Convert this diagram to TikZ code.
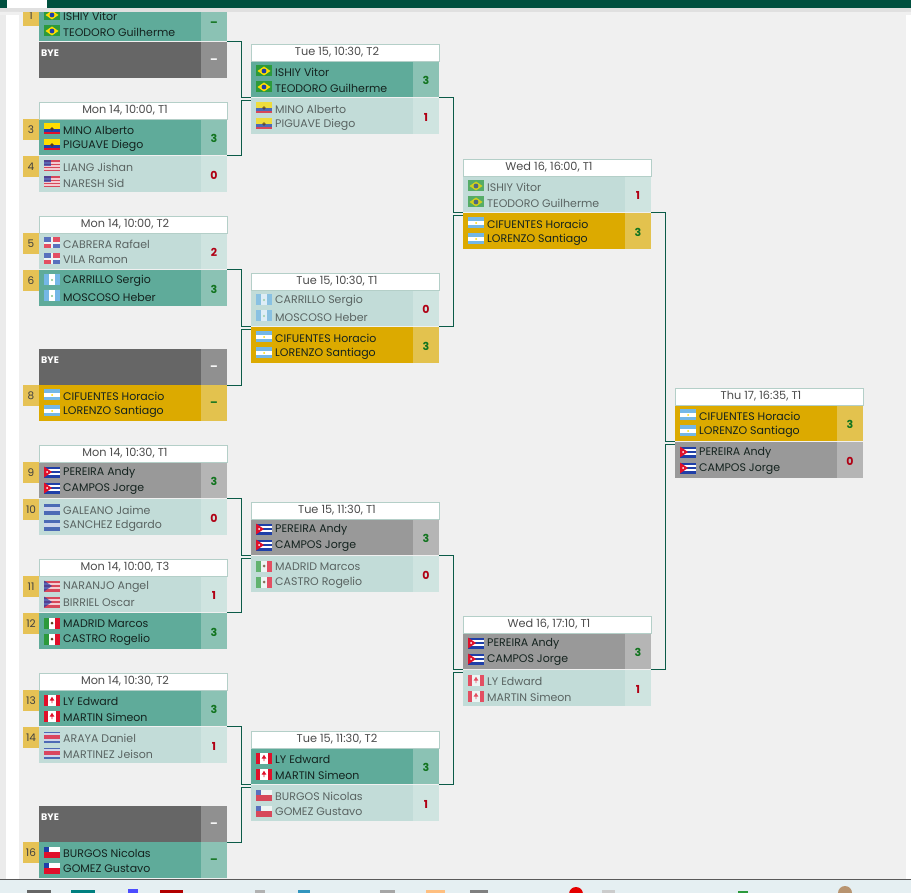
\documentclass[tikz,border=0pt]{standalone}
\usepackage{fontspec}
\setmainfont{Poppins}
\usepackage{xcolor}
\definecolor{panelgrey}{HTML}{F0F0F0}
\definecolor{barteal}{HTML}{00503F}
\definecolor{linkgreen}{HTML}{0B5B48}
\definecolor{headborder}{HTML}{B4CFC8}
\definecolor{seedgold}{HTML}{E6C255}
\definecolor{tealrow}{HTML}{5FAB9A}
\definecolor{tealscore}{HTML}{8BC2B4}
\definecolor{palerow}{HTML}{C2DCD8}
\definecolor{palescore}{HTML}{CFE4E0}
\definecolor{goldrow}{HTML}{DCAA00}
\definecolor{goldscore}{HTML}{E3C24E}
\definecolor{greyrow}{HTML}{999999}
\definecolor{greyscore}{HTML}{B5B5B5}
\definecolor{byerow}{HTML}{666666}
\definecolor{byescore}{HTML}{909090}
\definecolor{wingreen}{HTML}{12741F}
\definecolor{losered}{HTML}{B00014}
\definecolor{darkname}{HTML}{14231F}
\definecolor{palename}{HTML}{5A6462}
\definecolor{flagblue}{HTML}{1F3FA8}
\definecolor{flagred}{HTML}{E0102A}
\definecolor{flagsky}{HTML}{74B7E6}
\definecolor{flaggreen}{HTML}{2C9A3C}
\definecolor{flagyellow}{HTML}{FFDD00}
\definecolor{stripblue}{HTML}{E5EFF2}
\tikzset{
    rowbox/.style={inner sep=0pt, outer sep=0pt, minimum width=188pt, minimum height=36pt},
    scorebox/.style={inner sep=0pt, outer sep=0pt, minimum width=26pt, minimum height=36pt},
    scoretext/.style={inner sep=0pt, font=\fontsize{11}{13}\selectfont\bfseries},
    namelabel/.style={inner sep=0pt, anchor=west, font=\fontsize{11}{13}\selectfont},
    seedbox/.style={inner sep=0pt, outer sep=0pt, minimum width=16pt, minimum height=21pt, fill=seedgold, text=black!75, font=\fontsize{10.5}{12}\selectfont},
    headbox/.style={inner sep=0pt, outer sep=0pt, minimum width=188pt, minimum height=17pt, fill=white, draw=headborder, line width=.7pt},
    headtext/.style={inner sep=0pt, text=black!70, font=\fontsize{11.3}{13}\selectfont},
    bracket/.style={draw=linkgreen, line width=.8pt},
    rowteal/.style={fill=tealrow}, rowtealname/.style={text=darkname}, rowtealscore/.style={fill=tealscore}, rowtealmark/.style={text=wingreen}, rowtealflag/.style={},
    rowpale/.style={fill=palerow}, rowpalename/.style={text=palename}, rowpalescore/.style={fill=palescore}, rowpalemark/.style={text=losered}, rowpaleflag/.style={opacity=.72},
    rowgold/.style={fill=goldrow}, rowgoldname/.style={text=darkname}, rowgoldscore/.style={fill=goldscore}, rowgoldmark/.style={text=wingreen}, rowgoldflag/.style={},
    rowgrey/.style={fill=greyrow}, rowgreyname/.style={text=darkname}, rowgreyscore/.style={fill=greyscore}, rowgreymark/.style={text=wingreen}, rowgreyflag/.style={},
    rowgreyout/.style={fill=greyrow}, rowgreyoutname/.style={text=darkname}, rowgreyoutscore/.style={fill=greyscore}, rowgreyoutmark/.style={text=losered}, rowgreyoutflag/.style={},
    pics/flagbr/.style={code={
        \fill[flaggreen] (-8,-5.5) rectangle (8,5.5);
        \fill[flagyellow] (-6.5,0) -- (0,-4.5) -- (6.5,0) -- (0,4.5) -- cycle;
        \fill[flagblue] (0,0) circle (2.4);
    }},
    pics/flagec/.style={code={
        \fill[flagyellow] (-8,-5.5) rectangle (8,0);
        \fill[flagblue] (-8,0) rectangle (8,2.75);
        \fill[flagred] (-8,2.75) rectangle (8,5.5);
        \fill[black!55!brown] (0,0) circle (1.8);
    }},
    pics/flagus/.style={code={
        \fill[flagred] (-8,-5.5) rectangle (8,5.5);
        \fill[white] (-8,-3.9) rectangle (8,-2.3);
        \fill[white] (-8,-.8) rectangle (8,.8);
        \fill[white] (-8,2.3) rectangle (8,3.9);
        \fill[flagblue] (-8,-5.5) rectangle (-1,.4);
    }},
    pics/flagdo/.style={code={
        \fill[white] (-8,-5.5) rectangle (8,5.5);
        \fill[flagblue] (-8,-5.5) rectangle (-1,-1);
        \fill[flagred] (1,-5.5) rectangle (8,-1);
        \fill[flagred] (-8,1) rectangle (-1,5.5);
        \fill[flagblue] (1,1) rectangle (8,5.5);
    }},
    pics/flaggt/.style={code={
        \fill[flagsky] (-8,-5.5) rectangle (8,5.5);
        \fill[white] (-2.7,-5.5) rectangle (2.7,5.5);
        \fill[flaggreen!60] (0,0) circle (1.2);
    }},
    pics/flagar/.style={code={
        \fill[flagsky] (-8,-5.5) rectangle (8,5.5);
        \fill[white] (-8,-1.8) rectangle (8,1.8);
        \fill[flagyellow] (0,0) circle (1);
    }},
    pics/flagcu/.style={code={
        \fill[flagblue] (-8,-5.5) rectangle (8,5.5);
        \fill[white] (-8,-3.3) rectangle (8,-1.1);
        \fill[white] (-8,1.1) rectangle (8,3.3);
        \fill[flagred] (-8,-5.5) -- (0,0) -- (-8,5.5) -- cycle;
        \fill[white] (-5,0) circle (1);
    }},
    pics/flaghn/.style={code={
        \fill[flagblue] (-8,-5.5) rectangle (8,5.5);
        \fill[white] (-8,-1.8) rectangle (8,1.8);
    }},
    pics/flagpr/.style={code={
        \fill[flagred] (-8,-5.5) rectangle (8,5.5);
        \fill[white] (-8,-3.3) rectangle (8,-1.1);
        \fill[white] (-8,1.1) rectangle (8,3.3);
        \fill[flagblue] (-8,-5.5) -- (0,0) -- (-8,5.5) -- cycle;
    }},
    pics/flagmx/.style={code={
        \fill[white] (-8,-5.5) rectangle (8,5.5);
        \fill[flaggreen] (-8,-5.5) rectangle (-2.7,5.5);
        \fill[flagred] (2.7,-5.5) rectangle (8,5.5);
        \fill[black!50!brown] (0,0) circle (1.5);
    }},
    pics/flagca/.style={code={
        \fill[white] (-8,-5.5) rectangle (8,5.5);
        \fill[flagred] (-8,-5.5) rectangle (-4,5.5);
        \fill[flagred] (4,-5.5) rectangle (8,5.5);
        \fill[flagred] (0,-3.2) -- (2.4,.6) -- (.4,.6) -- (.4,3) -- (-.4,3) -- (-.4,.6) -- (-2.4,.6) -- cycle;
    }},
    pics/flagcr/.style={code={
        \fill[flagblue] (-8,-5.5) rectangle (8,5.5);
        \fill[white] (-8,-3.7) rectangle (8,3.7);
        \fill[flagred] (-8,-1.8) rectangle (8,1.8);
    }},
    pics/flagcl/.style={code={
        \fill[white] (-8,-5.5) rectangle (8,0);
        \fill[flagred] (-8,0) rectangle (8,5.5);
        \fill[flagblue] (-8,-5.5) rectangle (-2.7,0);
    }},
}
\newcommand{\playerrow}[7]{
    \node[rowbox,#3] (#1) at (#2) {};
    \node[scorebox,#3score,anchor=east] (#1s) at (#1.east) {};
    \node[scoretext,#3mark] (#1m) at ([yshift=-1pt]#1s.center) {#7};
    \pic[#3flag] at ([xshift=13pt,yshift=8pt]#1.west) {flag#4};
    \pic[#3flag] at ([xshift=13pt,yshift=-8pt]#1.west) {flag#4};
    \node[namelabel,#3name] (#1u) at ([xshift=24pt,yshift=7pt]#1.west) {#5};
    \node[namelabel,#3name] (#1v) at ([xshift=24pt,yshift=-9pt]#1.west) {#6};
}
\newcommand{\byeslot}[2]{
    \node[rowbox,fill=byerow] (#1) at (#2) {};
    \node[scorebox,fill=byescore,anchor=east] (#1s) at (#1.east) {};
    \node[scoretext,text=white] (#1m) at ([yshift=-1pt]#1s.center) {–};
    \node[namelabel,text=white,font=\fontsize{9.5}{11}\selectfont\bfseries] (#1u) at ([xshift=2pt,yshift=7pt]#1.west) {BYE};
}
\newcommand{\seedtag}[2]{
    \node[seedbox,anchor=north east] (#1seed) at (#1.north west) {#2};
}
\newcommand{\matchhead}[2]{
    \node[headbox,anchor=south] (#1head) at (#1.north) {};
    \node[headtext] (#1date) at ([xshift=-8pt]#1head.center) {#2};
}
\begin{document}
\begin{tikzpicture}[x=1pt,y=-1pt]
    \useasboundingbox (0,0) rectangle (911,893);
    \fill[white] (0,0) rectangle (911,893);
    \fill[black!8] (0,0) rectangle (6,893);
    \fill[panelgrey] (19,0) rectangle (906,893);

    \playerrow{ra1}{133,23}{rowteal}{br}{ISHIY Vitor}{TEODORO Guilherme}{–}
    \seedtag{ra1}{1}
    \byeslot{ra2}{133,60}
    \playerrow{ra3}{133,137}{rowteal}{ec}{MINO Alberto}{PIGUAVE Diego}{3}
    \seedtag{ra3}{3}
    \playerrow{ra4}{133,174}{rowpale}{us}{LIANG Jishan}{NARESH Sid}{0}
    \seedtag{ra4}{4}
    \matchhead{ra3}{Mon 14, 10:00, T1}
    \playerrow{ra5}{133,251}{rowpale}{do}{CABRERA Rafael}{VILA Ramon}{2}
    \seedtag{ra5}{5}
    \playerrow{ra6}{133,288}{rowteal}{gt}{CARRILLO Sergio}{MOSCOSO Heber}{3}
    \seedtag{ra6}{6}
    \matchhead{ra5}{Mon 14, 10:00, T2}
    \byeslot{ra7}{133,367}
    \playerrow{ra8}{133,403}{rowgold}{ar}{CIFUENTES Horacio}{LORENZO Santiago}{–}
    \seedtag{ra8}{8}
    \playerrow{ra9}{133,480}{rowgrey}{cu}{PEREIRA Andy}{CAMPOS Jorge}{3}
    \seedtag{ra9}{9}
    \playerrow{ra10}{133,517}{rowpale}{hn}{GALEANO Jaime}{SANCHEZ Edgardo}{0}
    \seedtag{ra10}{10}
    \matchhead{ra9}{Mon 14, 10:30, T1}
    \playerrow{ra11}{133,594}{rowpale}{pr}{NARANJO Angel}{BIRRIEL Oscar}{1}
    \seedtag{ra11}{11}
    \playerrow{ra12}{133,631}{rowteal}{mx}{MADRID Marcos}{CASTRO Rogelio}{3}
    \seedtag{ra12}{12}
    \matchhead{ra11}{Mon 14, 10:00, T3}
    \playerrow{ra13}{133,708}{rowteal}{ca}{LY Edward}{MARTIN Simeon}{3}
    \seedtag{ra13}{13}
    \playerrow{ra14}{133,745}{rowpale}{cr}{ARAYA Daniel}{MARTINEZ Jeison}{1}
    \seedtag{ra14}{14}
    \matchhead{ra13}{Mon 14, 10:30, T2}
    \byeslot{ra15}{133,824}
    \playerrow{ra16}{133,860}{rowteal}{cl}{BURGOS Nicolas}{GOMEZ Gustavo}{–}
    \seedtag{ra16}{16}

    \playerrow{rb1}{345,79}{rowteal}{br}{ISHIY Vitor}{TEODORO Guilherme}{3}
    \playerrow{rb2}{345,116}{rowpale}{ec}{MINO Alberto}{PIGUAVE Diego}{1}
    \matchhead{rb1}{Tue 15, 10:30, T2}
    \playerrow{rb3}{345,308}{rowpale}{gt}{CARRILLO Sergio}{MOSCOSO Heber}{0}
    \playerrow{rb4}{345,345}{rowgold}{ar}{CIFUENTES Horacio}{LORENZO Santiago}{3}
    \matchhead{rb3}{Tue 15, 10:30, T1}
    \playerrow{rb5}{345,537}{rowgrey}{cu}{PEREIRA Andy}{CAMPOS Jorge}{3}
    \playerrow{rb6}{345,574}{rowpale}{mx}{MADRID Marcos}{CASTRO Rogelio}{0}
    \matchhead{rb5}{Tue 15, 11:30, T1}
    \playerrow{rb7}{345,766}{rowteal}{ca}{LY Edward}{MARTIN Simeon}{3}
    \playerrow{rb8}{345,803}{rowpale}{cl}{BURGOS Nicolas}{GOMEZ Gustavo}{1}
    \matchhead{rb7}{Tue 15, 11:30, T2}

    \playerrow{rc1}{557,194}{rowpale}{br}{ISHIY Vitor}{TEODORO Guilherme}{1}
    \playerrow{rc2}{557,231}{rowgold}{ar}{CIFUENTES Horacio}{LORENZO Santiago}{3}
    \matchhead{rc1}{Wed 16, 16:00, T1}
    \playerrow{rc3}{557,651}{rowgrey}{cu}{PEREIRA Andy}{CAMPOS Jorge}{3}
    \playerrow{rc4}{557,688}{rowpale}{ca}{LY Edward}{MARTIN Simeon}{1}
    \matchhead{rc3}{Wed 16, 17:10, T1}

    \playerrow{rd1}{769,423}{rowgold}{ar}{CIFUENTES Horacio}{LORENZO Santiago}{3}
    \playerrow{rd2}{769,460}{rowgreyout}{cu}{PEREIRA Andy}{CAMPOS Jorge}{0}
    \matchhead{rd1}{Thu 17, 16:35, T1}

    \draw[bracket] (ra1.south east) -- ++(14,0) |- (rb1.south west);
    \draw[bracket] (ra3.south east) -- ++(14,0) |- ([yshift=-2.5pt]rb2.north west);
    \draw[bracket] (ra5.south east) -- ++(14,0) |- (rb3.south west);
    \draw[bracket] (ra7.south east) -- ++(14,0) |- ([yshift=-2.5pt]rb4.north west);
    \draw[bracket] (ra9.south east) -- ++(14,0) |- (rb5.south west);
    \draw[bracket] (ra11.south east) -- ++(14,0) |- ([yshift=-2.5pt]rb6.north west);
    \draw[bracket] (ra13.south east) -- ++(14,0) |- (rb7.south west);
    \draw[bracket] (ra15.south east) -- ++(14,0) |- ([yshift=-2.5pt]rb8.north west);
    \draw[bracket] (rb1.south east) -- ++(14,0) |- (rc1.south west);
    \draw[bracket] (rb3.south east) -- ++(14,0) |- ([yshift=-2.5pt]rc2.north west);
    \draw[bracket] (rb5.south east) -- ++(14,0) |- (rc3.south west);
    \draw[bracket] (rb7.south east) -- ++(14,0) |- ([yshift=-2.5pt]rc4.north west);
    \draw[bracket] (rc1.south east) -- ++(14,0) |- (rd1.south west);
    \draw[bracket] (rc3.south east) -- ++(14,0) |- ([yshift=-2.5pt]rd2.north west);

    % top bar and the strip along the bottom
    \fill[black!12] (0,8) rectangle (911,12);
    \fill[black!6] (0,12) rectangle (19,15) (906,12) rectangle (911,15);
    \fill[barteal] (0,0) rectangle (911,8);
    \fill[white] (7,0) rectangle (47,8);
    \fill[black!65] (0,879) rectangle (911,880);
    \fill[stripblue] (0,880) rectangle (911,893);
    \fill[black!60] (27,890) rectangle (51,893);
    \fill[teal] (71,890) rectangle (95,893);
    \fill[blue!70] (128,889) rectangle (138,893);
    \fill[red!70!black] (160,890) rectangle (183,893);
    \fill[black!30] (255,890) rectangle (265,893);
    \fill[cyan!50!teal] (298,890) rectangle (310,893);
    \fill[black!35] (380,890) rectangle (395,893);
    \fill[orange!50] (426,890) rectangle (445,893);
    \fill[black!50] (470,890) rectangle (488,893);
    \fill[red!90!black] (576,894) circle (7);
    \fill[black!20] (602,890) rectangle (615,893);
    \fill[flaggreen] (738,891) rectangle (748,893);
    \fill[brown!80!black!70] (845,893) circle (7);
\end{tikzpicture}
\end{document}
